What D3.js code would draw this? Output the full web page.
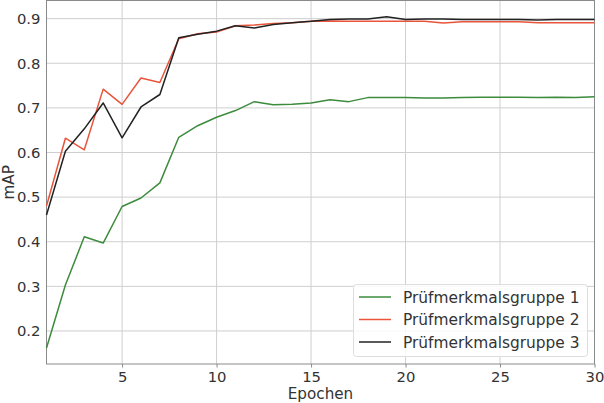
<!DOCTYPE html>
<html><head><meta charset="utf-8">
<script src="https://cdn.jsdelivr.net/npm/d3@7"></script>
<style>body{margin:0;background:#fff}svg{display:block}text{font-family:"DejaVu Sans",sans-serif}</style>
</head><body><svg id="c" width="604" height="403"></svg>
<script>
const epochs = d3.range(1, 31);
const seriesNames = ["Prüfmerkmalsgruppe 1", "Prüfmerkmalsgruppe 2", "Prüfmerkmalsgruppe 3"];
const group1 = [0.162,0.303,0.411,0.397,0.479,0.498,0.532,0.634,0.660,0.679,0.694,0.714,0.707,0.708,0.711,0.718,0.714,0.723,0.723,0.723,0.722,0.722,0.723,0.724,0.724,0.724,0.723,0.724,0.723,0.725];
const group2 = [0.480,0.632,0.606,0.742,0.708,0.767,0.757,0.855,0.866,0.870,0.884,0.886,0.889,0.891,0.894,0.895,0.894,0.894,0.894,0.894,0.894,0.890,0.893,0.893,0.893,0.893,0.891,0.891,0.891,0.891];
const group3 = [0.460,0.603,0.653,0.711,0.633,0.702,0.730,0.857,0.865,0.872,0.884,0.879,0.887,0.891,0.894,0.898,0.899,0.899,0.904,0.898,0.899,0.899,0.898,0.898,0.898,0.898,0.897,0.898,0.898,0.898];
const xTicks = [5,10,15,20,25,30];
const yTicks = [0.2,0.3,0.4,0.5,0.6,0.7,0.8,0.9];
const colors = ["#3d8b3d", "#e8553a", "#222222"];

const svg = d3.select("#c");
const L = 46.5, R = 594.5, T = 0.5, B = 364;
const x = d3.scaleLinear().domain([1, 30]).range([L, R]);
const y = d3.scaleLinear().domain([0.126, 0.94]).range([B, T + 0.3]);

// grid
svg.append("g").selectAll("line").data(xTicks).join("line")
  .attr("x1", d => x(d)).attr("x2", d => x(d)).attr("y1", T).attr("y2", B)
  .attr("stroke", "#cfcfcf").attr("stroke-width", 1);
svg.append("g").selectAll("line").data(yTicks).join("line")
  .attr("x1", L).attr("x2", R).attr("y1", d => y(d)).attr("y2", d => y(d))
  .attr("stroke", "#cfcfcf").attr("stroke-width", 1);

// frame
svg.append("rect").attr("x", L).attr("y", T).attr("width", R - L).attr("height", B - T)
  .attr("fill", "none").attr("stroke", "#8a8a8a").attr("stroke-width", 1);

// axes
const xAxis = svg.append("g").attr("transform", `translate(0,${B})`)
  .call(d3.axisBottom(x).tickValues(xTicks).tickSize(3.5).tickPadding(4).tickFormat(d3.format("d")));
const yAxis = svg.append("g").attr("transform", `translate(${L},0)`)
  .call(d3.axisLeft(y).tickValues(yTicks).tickSize(0).tickPadding(6).tickFormat(d3.format(".1f")));
[xAxis, yAxis].forEach(a => {
  a.select(".domain").remove();
  a.selectAll("text").attr("font-size", 14.8).attr("fill", "#333").attr("font-family", "DejaVu Sans");
  a.selectAll("line").attr("stroke", "#8a8a8a");
});

// lines
const line = d3.line().x((d, i) => x(epochs[i])).y(d => y(d));
[group1, group2, group3].forEach((s, i) => {
  svg.append("path").datum(s).attr("d", line).attr("fill", "none")
    .attr("stroke", colors[i]).attr("stroke-width", 1.5).attr("stroke-linejoin", "round");
});

// axis labels
svg.append("text").attr("x", (L + R) / 2).attr("y", 399).attr("text-anchor", "middle")
  .attr("font-size", 15.2).attr("fill", "#333").text("Epochen");
svg.append("text").attr("transform", `translate(14,${(T + B) / 2}) rotate(-90)`).attr("text-anchor", "middle")
  .attr("font-size", 15.2).attr("fill", "#333").text("mAP");

// legend
const lg = svg.append("g");
lg.append("rect").attr("x", 353.5).attr("y", 284.5).attr("width", 234).attr("height", 72).attr("rx", 3)
  .attr("fill", "#fff").attr("fill-opacity", 0.85).attr("stroke", "#dddddd");
seriesNames.forEach((n, i) => {
  const yy = 297 + i * 22.5;
  lg.append("line").attr("x1", 359).attr("x2", 391).attr("y1", yy).attr("y2", yy)
    .attr("stroke", colors[i]).attr("stroke-width", 1.5);
  lg.append("text").attr("x", 403).attr("y", yy + 5.5).attr("font-size", 15.4).attr("fill", "#333").text(n);
});
</script></body></html>
